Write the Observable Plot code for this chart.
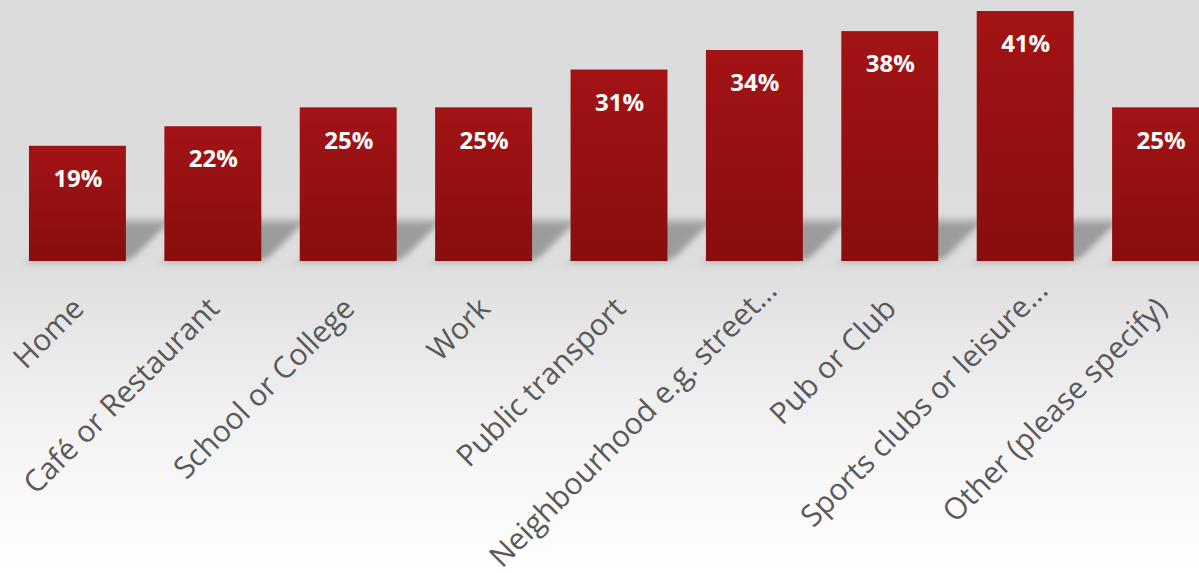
<!DOCTYPE html>
<html>
<head>
<meta charset="utf-8">
<script src="https://cdn.jsdelivr.net/npm/d3@7"></script>
<script src="https://cdn.jsdelivr.net/npm/@observablehq/plot@0.6"></script>
<style>
  html, body { margin: 0; padding: 0; background: #fff; }
  #chart { width: 1199px; height: 573px; overflow: hidden; }
</style>
</head>
<body>
<div id="chart"></div>
<script>
const categories = ["Home", "Café or Restaurant", "School or College", "Work", "Public transport",
  "Neighbourhood e.g. street...", "Pub or Club", "Sports clubs or leisure...", "Other (please specify)"];
const values = [18.9, 22.1, 25.2, 25.2, 31.4, 34.6, 37.7, 41.0, 25.2];
const valueLabels = ["19%", "22%", "25%", "25%", "31%", "34%", "38%", "41%", "25%"];

const data = categories.map((c, i) => ({category: c, value: values[i], label: valueLabels[i]}));
const isTruncated = d => d.category.endsWith("...");

const font = "'Open Sans', 'Noto Sans', sans-serif";

const plot = Plot.plot({
  width: 1199,
  height: 573,
  marginTop: 0,
  marginBottom: 312,
  marginLeft: 0,
  marginRight: 0,
  style: {background: "linear-gradient(to bottom, #dbdbdb 0%, #dddddd 45%, #f3f3f3 75%, #ffffff 100%)", overflow: "visible"},
  x: {domain: categories, range: [-9.5, 1247.5], padding: 0.284, round: false, axis: null},
  y: {domain: [0, 41.0 * 261 / 250], axis: null},
  marks: [
    Plot.barY(data, {x: "category", y1: 0, y2: () => 6.6, fill: "#9c9c9c", insetRight: -4}),
    Plot.barY(data, {x: "category", y: "value", fill: "url(#barGrad)"}),
    Plot.text(data, {x: "category", y: "value", text: "label", dy: 33, fill: "white",
      fontSize: 24, fontWeight: "bold", fontFamily: font}),
    Plot.text(data.filter(d => !isTruncated(d)), {x: "category", y: 0, text: "category", rotate: -45, textAnchor: "end",
      dx: 1, dy: 42, fill: "#595959", fontSize: 30, fontFamily: font}),
    Plot.text(data.filter(isTruncated), {x: "category", y: 0, text: "category", rotate: -45, textAnchor: "end",
      dx: 17, dy: 24, fill: "#595959", fontSize: 30, fontFamily: font})
  ]
});

const svg = d3.select(plot);
const defs = svg.insert("defs", ":first-child");
const g = defs.append("linearGradient").attr("id", "barGrad")
  .attr("x1", 0).attr("y1", 0).attr("x2", 0).attr("y2", 1);
g.append("stop").attr("offset", "0%").attr("stop-color", "#a31315");
g.append("stop").attr("offset", "100%").attr("stop-color", "#880e0e");
defs.append("filter").attr("id", "blur").attr("x", "-50%").attr("y", "-50%").attr("width", "200%").attr("height", "200%")
  .append("feGaussianBlur").attr("stdDeviation", 4);

const base = 261;
const rectGroups = Array.from(plot.querySelectorAll("g")).filter(n => n.querySelector(":scope > rect"));
if (rectGroups.length) {
  const sh = rectGroups[0];
  const prev = sh.getAttribute("transform") || "";
  sh.setAttribute("transform", `translate(0,${base}) skewX(-45) translate(0,${-base}) ${prev}`);
  sh.setAttribute("filter", "url(#blur)");
}

document.getElementById("chart").appendChild(plot);
</script>
</body>
</html>
